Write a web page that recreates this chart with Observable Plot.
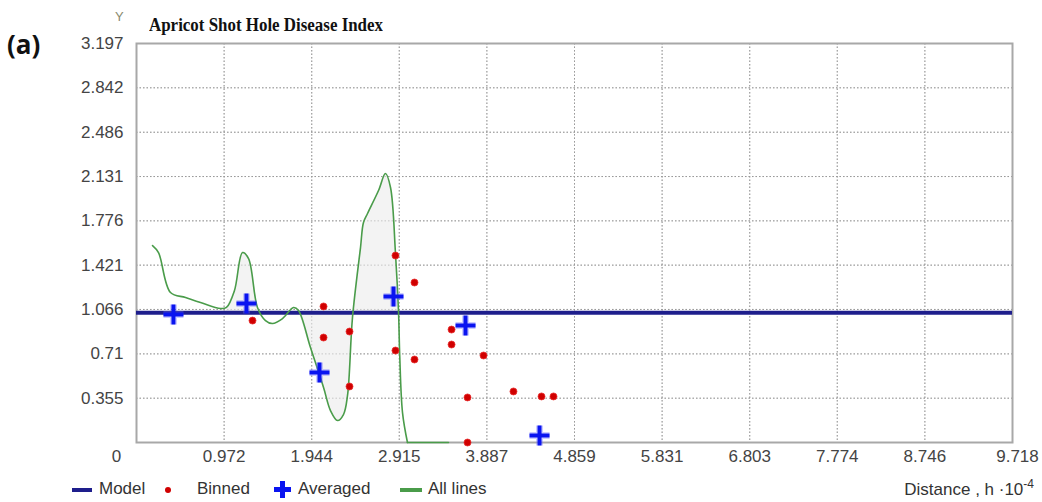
<!DOCTYPE html>
<html>
<head>
<meta charset="utf-8">
<script src="https://cdn.jsdelivr.net/npm/d3@7"></script>
<script src="https://cdn.jsdelivr.net/npm/@observablehq/plot@0.6"></script>
<style>
  html, body { margin: 0; padding: 0; background: #fff; }
  #wrap { position: relative; width: 1042px; height: 502px; overflow: hidden; font-family: "Liberation Sans", Arial, sans-serif; }
  #wrap svg { position: absolute; left: 0; top: 0; }
  .abs { position: absolute; white-space: nowrap; }
  #title { font-family: "Liberation Serif", "Times New Roman", serif; font-weight: bold; font-size: 18px; color: #111; left: 149px; top: 15px; transform-origin: 0 0; }
  #ylab { font-size: 13px; color: #8a8a70; left: 115px; top: 9px; }
  #panel { font-family: "Open Sans", "DejaVu Sans", sans-serif; font-weight: bold; font-size: 26px; color: #111; left: 7px; top: 26px; }
  .leg { font-size: 17px; color: #333; top: 479px; }
  #xlab { font-size: 17px; color: #333; top: 477px; right: 8px; }
</style>
</head>
<body>
<div id="wrap"></div>
<script>
// ---- data ----
const xTicks = [0, 0.972, 1.944, 2.915, 3.887, 4.859, 5.831, 6.803, 7.774, 8.746, 9.718];
const yTicks = [0.355, 0.71, 1.066, 1.421, 1.776, 2.131, 2.486, 2.842, 3.197];
const modelValue = 1.04;

const binnedX = [1.287, 2.075, 2.075, 2.363, 2.363, 2.873, 2.873, 3.084, 3.084, 3.495, 3.495, 3.850, 3.672, 3.672, 4.182, 4.493, 4.626];
const binnedY = [0.977, 1.090, 0.841, 0.889, 0.449, 1.498, 0.737, 1.282, 0.665, 0.905, 0.785, 0.697, 0.361, 0.0, 0.409, 0.369, 0.369];

const avgX = [0.410, 1.220, 2.030, 2.851, 3.650, 4.471];
const avgY = [1.026, 1.114, 0.561, 1.170, 0.937, 0.056];

// "All lines": smooth part, then flat tail at zero
const lineX = [0.178, 0.244, 0.377, 0.544, 0.710, 0.932, 0.998, 1.087, 1.176, 1.243, 1.342, 1.431, 1.509, 1.620, 1.742, 1.797, 1.930, 2.075, 2.152, 2.230, 2.296, 2.341, 2.396, 2.485, 2.518, 2.563, 2.685, 2.762, 2.818, 2.873, 2.907, 2.920, 2.951, 3.006];
const lineY = [1.578, 1.522, 1.202, 1.162, 1.122, 1.074, 1.082, 1.218, 1.522, 1.474, 1.082, 0.977, 0.953, 0.993, 1.082, 1.058, 0.761, 0.441, 0.256, 0.176, 0.224, 0.377, 1.001, 1.562, 1.763, 1.835, 2.019, 2.155, 2.043, 1.514, 1.042, 0.700, 0.240, 0.0];
const tailX = [3.006, 3.461];
const tailY = [0.0, 0.0];

// ---- build tables ----
const binned = binnedX.map((x, i) => ({x, y: binnedY[i]}));
const averaged = avgX.map((x, i) => ({x, y: avgY[i]}));
const lines = lineX.map((x, i) => ({x, y: lineY[i]}));
const tail = tailX.map((x, i) => ({x, y: tailY[i]}));
const fill1 = lines.filter(d => d.x >= 0.96 && d.x <= 1.36);
const fill2 = lines.filter(d => d.x >= 1.78 && d.x <= 2.907);

const W = 1042, H = 474;
const gridStyle = {stroke: "#9a9a9a", strokeOpacity: 1, strokeWidth: 1, strokeDasharray: "1.5,2"};
const fmt3 = d => String(d);

const plot = Plot.plot({
  width: W,
  height: H,
  marginLeft: 136,
  marginRight: 30,
  marginTop: 43,
  marginBottom: 32,
  x: {domain: [0, 9.718], axis: null},
  y: {domain: [0, 3.197], axis: null},
  style: {fontFamily: "'Liberation Sans', Arial, sans-serif", fontSize: "17px", color: "#444", background: "#fff"},
  marks: [
    Plot.ruleX(xTicks.slice(1, -1), {...gridStyle}),
    Plot.ruleY(yTicks.slice(0, -1), {...gridStyle}),
    Plot.areaY(fill1, {x: "x", y1: modelValue, y2: "y", curve: "catmull-rom", fill: "#f3f3f3"}),
    Plot.areaY(fill2, {x: "x", y1: modelValue, y2: "y", curve: "catmull-rom", fill: "#f3f3f3"}),
    Plot.ruleX(xTicks.slice(1, -1), {...gridStyle, strokeOpacity: 0.5}),
    Plot.ruleY(yTicks.slice(0, -1), {...gridStyle, strokeOpacity: 0.5}),
    Plot.frame({stroke: "#a8a8a8", strokeWidth: 2}),
    Plot.ruleY([modelValue], {stroke: "#1e1e8c", strokeWidth: 4}),
    Plot.line(lines, {x: "x", y: "y", curve: "catmull-rom", stroke: "#4a9c4a", strokeWidth: 1.6}),
    Plot.line(tail, {x: "x", y: "y", stroke: "#4a9c4a", strokeWidth: 1.6}),
    Plot.dot(binned, {x: "x", y: "y", r: 3.5, fill: "#d00000", stroke: "#e83030", strokeWidth: 0.8}),
    Plot.dot(averaged, {x: "x", y: "y", symbol: "plus", r: 6.5, stroke: "#6a6aff", strokeOpacity: 0.35, strokeWidth: 7}),
    Plot.dot(averaged, {x: "x", y: "y", symbol: "plus", r: 6.5, stroke: "#0a14f0", strokeWidth: 4}),
    Plot.text(yTicks, {y: d => d, frameAnchor: "left", dx: -13, textAnchor: "end", text: fmt3, fill: "#444", fontSize: 17}),
    Plot.text(xTicks.slice(1, -1), {x: d => d, frameAnchor: "bottom", dy: 19, text: d => d3.format(".3f")(d), fill: "#444", fontSize: 17}),
    Plot.text([xTicks[0]], {x: d => d, frameAnchor: "bottom", dy: 19, dx: -20, text: fmt3, fill: "#444", fontSize: 17}),
    Plot.text([xTicks[xTicks.length - 1]], {x: d => d, frameAnchor: "bottom", dy: 19, dx: 5, text: d => d3.format(".3f")(d), fill: "#444", fontSize: 17})
  ]
});

const wrap = document.getElementById("wrap");
wrap.appendChild(plot);

function addDiv(id, cls, html, style) {
  const d = document.createElement("div");
  if (id) d.id = id;
  d.className = "abs " + (cls || "");
  d.innerHTML = html;
  Object.assign(d.style, style || {});
  wrap.appendChild(d);
  return d;
}

addDiv("panel", "", "(a)");
addDiv("ylab", "", "Y");
const title = addDiv("title", "", "Apricot Shot Hole Disease Index");
const tw = title.getBoundingClientRect().width;
title.style.transform = `scaleX(${234 / tw})`;

// legend (below the SVG)
addDiv(null, "", "", {left: "72px", top: "488px", width: "20px", height: "4px", background: "#1e1e8c"});
addDiv(null, "leg", "Model", {left: "99px"});
addDiv(null, "", "", {left: "165px", top: "487px", width: "6px", height: "6px", borderRadius: "50%", background: "#d00000"});
addDiv(null, "leg", "Binned", {left: "197px"});
addDiv(null, "", "", {left: "274px", top: "487px", width: "17px", height: "5px", background: "#0a14f0"});
addDiv(null, "", "", {left: "280px", top: "481px", width: "5px", height: "17px", background: "#0a14f0"});
addDiv(null, "leg", "Averaged", {left: "298px"});
addDiv(null, "", "", {left: "400px", top: "488px", width: "22px", height: "4px", background: "#4a9c4a"});
addDiv(null, "leg", "All lines", {left: "428px"});
addDiv("xlab", "", "Distance , h ·10<sup style='font-size:12px;vertical-align:7px'>-4</sup>");
</script>
</body>
</html>
